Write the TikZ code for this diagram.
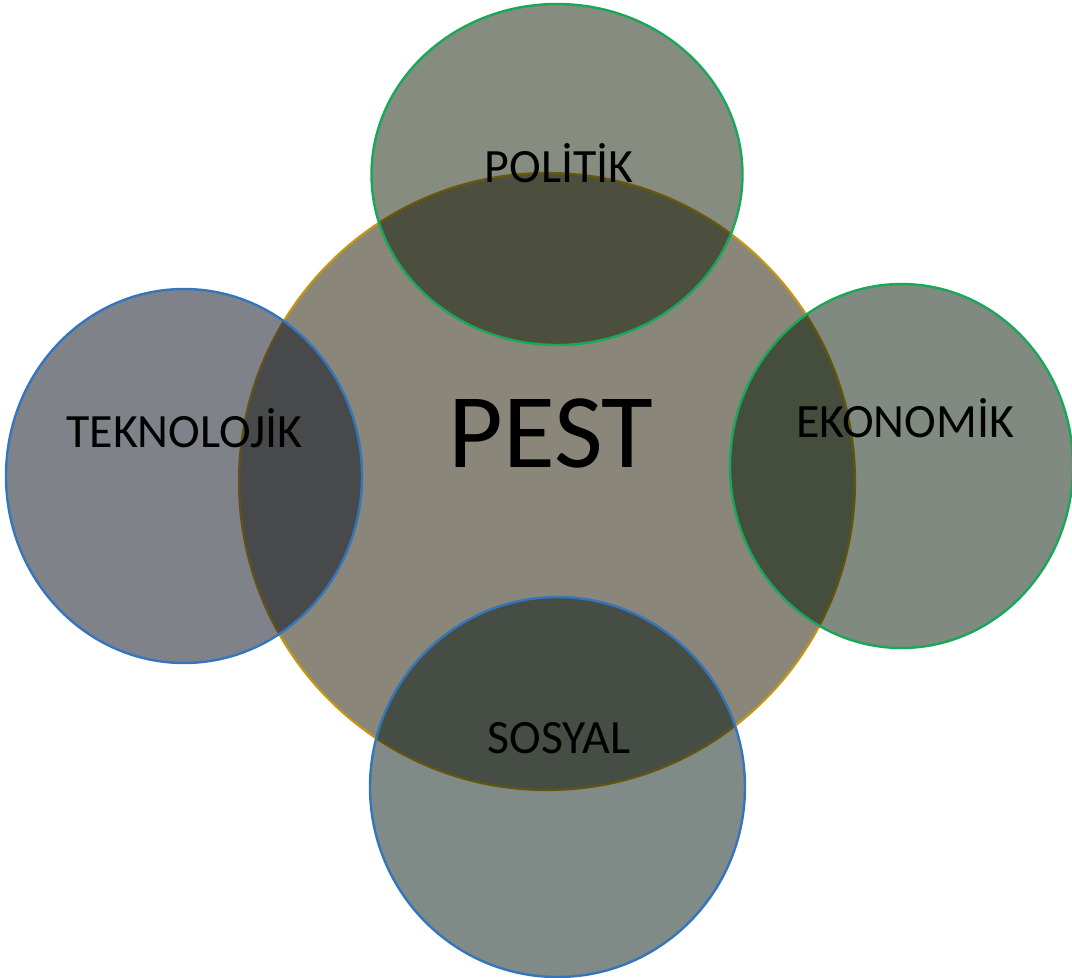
\documentclass[tikz,border=0pt]{standalone}
\usepackage{fontspec}
\setmainfont{Carlito}
\usetikzlibrary{shapes.geometric}
\definecolor{coreFill}{RGB}{138,134,122}
\definecolor{coreLine}{RGB}{196,150,20}
\definecolor{polFill}{RGB}{15,25,1}
\definecolor{tekFill}{RGB}{15,19,34}
\definecolor{ekoFill}{RGB}{1,21,1}
\definecolor{sosFill}{RGB}{1,21,15}
\definecolor{greenLine}{RGB}{24,168,88}
\definecolor{blueLine}{RGB}{52,118,188}
\tikzset{
  disc/.style={ellipse, inner sep=0pt, outer sep=0pt},
  petal/.style={disc, line width=2.4pt, fill opacity=0.5},
  label/.style={anchor=base, inner sep=0pt, text=black, font=\fontsize{47.8}{48}\selectfont},
}
\begin{document}
\begin{tikzpicture}[x=1pt, y=-1pt]
  \useasboundingbox (0,0) rectangle (1072,978);
  % central disc
  \node[disc, draw=coreLine, line width=2.2pt, fill=coreFill,
        minimum width=616pt, minimum height=617pt] (core) at (547,481.5) {};
  % four overlapping discs
  \node[petal, draw=greenLine, fill=polFill,
        minimum width=371pt, minimum height=341pt] (pol) at (557,174.5) {};
  \node[petal, draw=blueLine, fill=tekFill, fill opacity=0.53,
        minimum width=356pt, minimum height=374pt] (tek) at (184,476) {};
  \node[petal, draw=greenLine, fill=ekoFill,
        minimum width=343pt, minimum height=364pt] (eko) at (901.5,466) {};
  \node[petal, draw=blueLine, fill=sosFill,
        minimum width=375pt, minimum height=380pt] (sos) at (557.5,787) {};
  % labels
  \node[label, font=\fontsize{106}{106}\selectfont] (tpest) at (551,467) {PEST};
  \node[label] (tpol) at (559,182) {POLİTİK};
  \node[label] (ttek) at (184.5,447) {TEKNOLOJİK};
  \node[label] (teko) at (905,437) {EKONOMİK};
  \node[label] (tsos) at (559,753) {SOSYAL};
\end{tikzpicture}
\end{document}
